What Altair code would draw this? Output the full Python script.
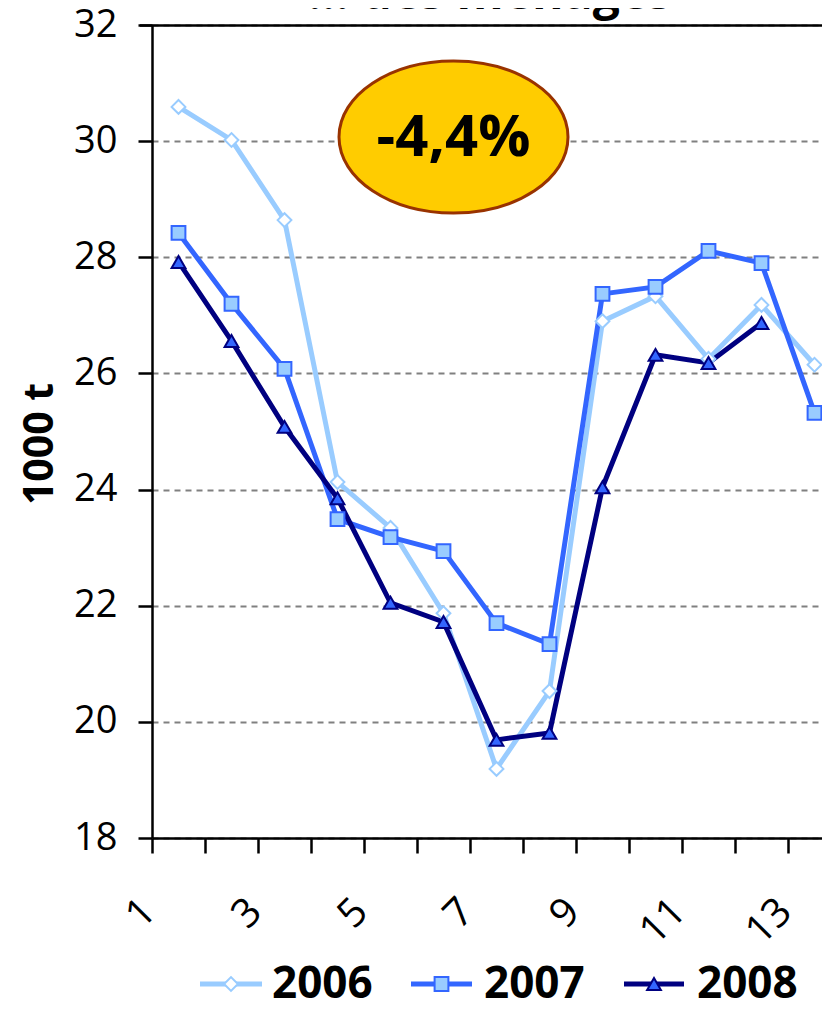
import altair as alt
import pandas as pd

# ---------------- data ----------------
months = list(range(1, 14))
years = ["2006", "2007", "2008"]
v2006 = [30.59, 30.02, 28.64, 24.13, 23.34, 21.87, 19.19, 20.53, 26.90, 27.33, 26.25, 27.18, 26.15]
v2007 = [28.42, 27.20, 26.08, 23.49, 23.18, 22.94, 21.70, 21.34, 27.37, 27.49, 28.11, 27.90, 25.32]
v2008 = [27.92, 26.56, 25.08, 23.85, 22.05, 21.72, 19.69, 19.81, 24.04, 26.32, 26.18, 26.87, None]
y_ticks = [18, 20, 22, 24, 26, 28, 30, 32]
x_labels = [1, 3, 5, 7, 9, 11, 13]
badge_text = "-4,4%"
title_text = "... des ménages"
y_title = "1000 t"

# ---------------- styles ----------------
FONT = "Open Sans"
line_colors = ["#99CCFF", "#3366FF", "#000080"]
marker_fills = ["#FFFFFF", "#99CCFF", "#3366FF"]
marker_shapes = ["diamond", "square", "triangle-up"]

rows = []
for yr, vals in zip(years, [v2006, v2007, v2008]):
    for m, v in zip(months, vals):
        if v is not None:
            rows.append({"year": yr, "month": m, "value": v})
df = pd.DataFrame(rows)

W, H = 670, 813
x_scale = alt.Scale(domain=[0.5, 0.5 + W / 53.0], nice=False, zero=False)
y_scale = alt.Scale(domain=[18, 32], nice=False, zero=False)

label_expr = (
    "indexof(" + str(x_labels).replace(" ", "") + ", datum.value + 0.5) >= 0"
    " ? format(datum.value + 0.5, 'd') : ''"
)

x_enc = alt.X(
    "month:Q",
    scale=x_scale,
    axis=alt.Axis(
        values=[m - 0.5 for m in months],
        labelExpr=label_expr,
        title=None,
        grid=False,
        domainColor="black",
        domainWidth=2.5,
        tickColor="black",
        tickWidth=2.5,
        tickSize=15,
        labelAngle=315,
        labelAlign="right",
        labelBaseline="middle",
        labelPadding=52,
        labelOffset=-3,
        labelFlush=False,
        labelOverlap=False,
        labelBound=False,
        labelFont=FONT,
        labelFontSize=40,
        labelColor="black",
    ),
)
y_enc = alt.Y(
    "value:Q",
    scale=y_scale,
    axis=alt.Axis(
        values=y_ticks,
        format="d",
        grid=True,
        gridColor="#808080",
        gridDash=[6, 5],
        gridWidth=2,
        domainColor="black",
        domainWidth=2.5,
        tickColor="black",
        tickWidth=2.5,
        tickSize=14,
        labelFont=FONT,
        labelFontSize=38,
        labelColor="black",
        labelPadding=21,
        title=y_title,
        titleFont=FONT,
        titleFontSize=41,
        titleFontWeight="bold",
        titleColor="black",
        titleAngle=270,
        titleX=-100,
        titleY=H / 2 + 12,
        titleAlign="center",
        titleBaseline="alphabetic",
    ),
)

lines = alt.Chart(df).mark_line(strokeWidth=5).encode(
    x=x_enc,
    y=y_enc,
    color=alt.Color("year:N", scale=alt.Scale(domain=years, range=line_colors), legend=None),
    detail="year:N",
)

points = alt.Chart(df).mark_point(filled=True, size=190, strokeWidth=2, opacity=1).encode(
    x=alt.X("month:Q", scale=x_scale),
    y=alt.Y("value:Q", scale=y_scale),
    shape=alt.Shape("year:N", scale=alt.Scale(domain=years, range=marker_shapes), legend=None),
    fill=alt.Fill("year:N", scale=alt.Scale(domain=years, range=marker_fills), legend=None),
    stroke=alt.Stroke("year:N", scale=alt.Scale(domain=years, range=line_colors), legend=None),
)

# badge ellipse with text
ELLIPSE = "M-1,0 A1,0.664 0 1,0 1,0 A1,0.664 0 1,0 -1,0 Z"
badge_df = pd.DataFrame({"t": [badge_text]})
badge = alt.Chart(badge_df).mark_point(
    shape=ELLIPSE, size=52441, filled=True, fill="#FFCC00", stroke="#993300",
    strokeWidth=3, opacity=1, fillOpacity=1,
).encode(x=alt.value(301.5), y=alt.value(112))
badge_txt = alt.Chart(badge_df).mark_text(
    font=FONT, fontSize=58, fontWeight="bold", color="black", align="center", baseline="middle",
).encode(x=alt.value(301.5), y=alt.value(114), text="t:N")

# partially cut title at the top
title_df = pd.DataFrame({"t": [title_text]})
title = alt.Chart(title_df).mark_text(
    font=FONT, fontSize=48, fontWeight="bold", color="black", align="center", baseline="alphabetic",
).encode(x=alt.value(338), y=alt.value(-16), text="t:N")

top_rule = alt.Chart(title_df).mark_rule(color="black", strokeWidth=2.5).encode(
    x=alt.value(-12), x2=alt.value(W), y=alt.value(0.5)
)

# manual legend
LEG_Y = 959
leg_line = [(48, 110), (259, 320), (472, 532)]
leg_text_x = [120, 332, 545]
legend_layers = []
for i, yr in enumerate(years):
    ldf = pd.DataFrame({"year": [yr]})
    x1, x2 = leg_line[i]
    legend_layers.append(
        alt.Chart(ldf).mark_rule(color=line_colors[i], strokeWidth=5).encode(
            x=alt.value(x1), x2=alt.value(x2), y=alt.value(LEG_Y)
        )
    )
    legend_layers.append(
        alt.Chart(ldf).mark_point(
            shape=marker_shapes[i], filled=True, fill=marker_fills[i], stroke=line_colors[i],
            strokeWidth=2, size=190, opacity=1,
        ).encode(x=alt.value((x1 + x2) / 2), y=alt.value(LEG_Y))
    )
    legend_layers.append(
        alt.Chart(ldf).mark_text(
            font=FONT, fontSize=44, fontWeight="bold", color="black", align="left", baseline="middle",
        ).encode(x=alt.value(leg_text_x[i]), y=alt.value(LEG_Y + 1), text="year:N")
    )

chart = alt.layer(
    lines, points, badge, badge_txt, title, top_rule, *legend_layers
).properties(
    width=W,
    height=H,
    autosize=alt.AutoSizeParams(type="none"),
    padding={"left": 144, "top": 17, "right": 0, "bottom": 163},
    background="white",
).configure_view(stroke=None)

chart.save("out.html", embed_options={"renderer": "svg", "actions": False})
